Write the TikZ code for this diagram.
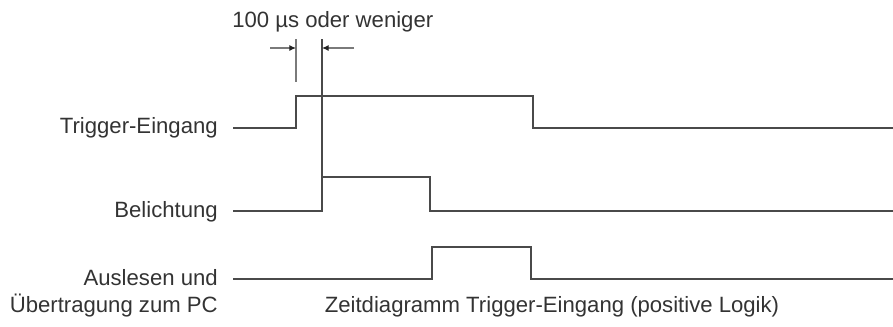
\documentclass[tikz,border=0pt]{standalone}
\usepackage{fontspec}
\setmainfont{Liberation Sans}
\usetikzlibrary{arrows.meta}
\definecolor{ink}{HTML}{333333}
\definecolor{wire}{HTML}{4A4A4A}
\definecolor{dimc}{HTML}{7A7A7A}
\definecolor{tipc}{HTML}{222222}
\begin{document}
\begin{tikzpicture}[x=0.75pt,y=-0.75pt,
  lbl/.style={font=\fontsize{16.6}{19}\selectfont, text=ink, inner sep=0pt},
  wave/.style={draw=wire, line width=0.9pt, line join=miter},
  dimline/.style={draw=dimc, line width=0.8pt},
  dimarrow/.style={draw=dimc, line width=0.8pt, -{Latex[length=5pt,width=4.5pt,color=tipc]}}]
\useasboundingbox (0,0) rectangle (893,326);
% labels
\node[lbl, anchor=base east] (ltrig) at (218,133) {Trigger-Eingang};
\node[lbl, anchor=base east] (lbel) at (218,217) {Belichtung};
\node[lbl, anchor=base east] (laus) at (218,285) {Auslesen und};
\node[lbl, anchor=base east] (lueb) at (218,312) {Übertragung zum PC};
\node[lbl, anchor=base] (cap) at (552,312) {Zeitdiagramm Trigger-Eingang (positive Logik)};
\node[lbl, anchor=base west] (dimtxt) at (232,27) {100 µs oder weniger};
% trigger waveform
\coordinate (t0) at (233,128);
\coordinate (t1) at (296,128);
\coordinate (t2) at (296,96);
\coordinate (t3) at (533,96);
\coordinate (t4) at (533,128);
\coordinate (t5) at (893,128);
\draw[wave] (t0) -- (t1) -- (t2) -- (t3) -- (t4) -- (t5);
% exposure waveform
\coordinate (b0) at (233,211);
\coordinate (b1) at (322,211);
\coordinate (b2) at (322,177);
\coordinate (b3) at (430,177);
\coordinate (b4) at (430,211);
\coordinate (b5) at (893,211);
\draw[wave] (b0) -- (b1) -- (b2) -- (b3) -- (b4) -- (b5);
% readout waveform
\coordinate (r0) at (233,279);
\coordinate (r1) at (432,279);
\coordinate (r2) at (432,247);
\coordinate (r3) at (531,247);
\coordinate (r4) at (531,279);
\coordinate (r5) at (893,279);
\draw[wave] (r0) -- (r1) -- (r2) -- (r3) -- (r4) -- (r5);
% dimension
\coordinate (e1top) at (296,39);
\coordinate (e1bot) at (296,82);
\coordinate (e2top) at (322,39);
\draw[dimline] (e1top) -- (e1bot);
\draw[wave] (e2top) -- (b2);
\coordinate (al) at (270,48);
\coordinate (alt) at (296,48);
\coordinate (ar) at (354,48);
\coordinate (art) at (322,48);
\draw[dimarrow] (al) -- (alt);
\draw[dimarrow] (ar) -- (art);
\end{tikzpicture}
\end{document}
